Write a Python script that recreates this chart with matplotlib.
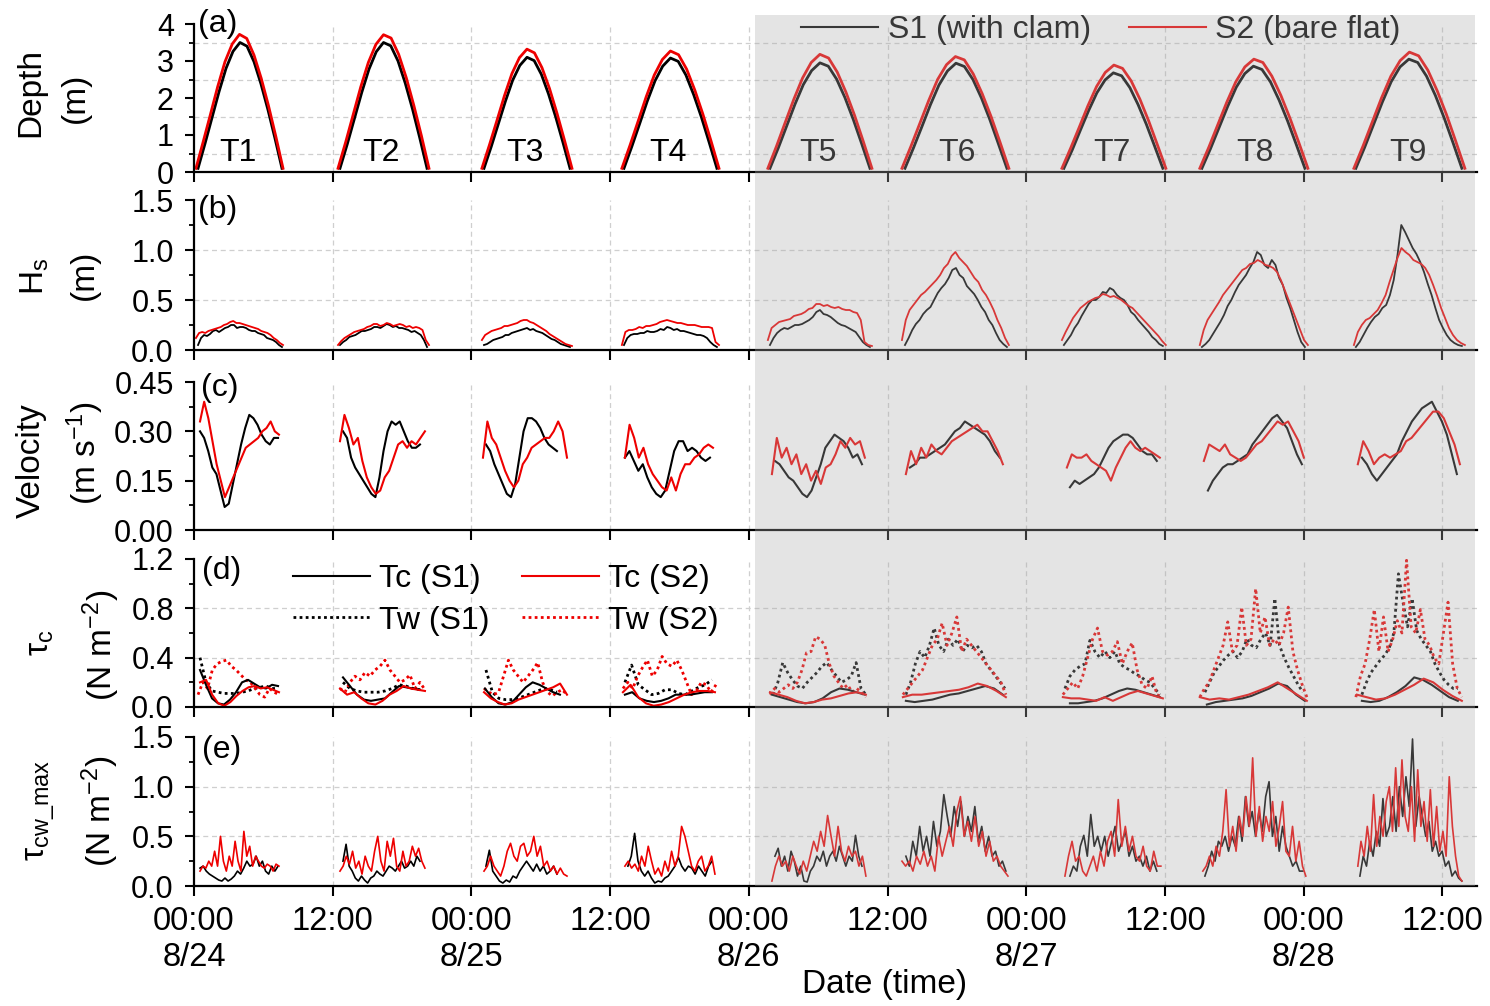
import numpy as np
import matplotlib
matplotlib.use('Agg')
import matplotlib.pyplot as plt
import matplotlib.transforms as mtransforms
from matplotlib.patches import Rectangle
from matplotlib.lines import Line2D

plt.rcParams['font.family'] = ['Liberation Sans', 'DejaVu Sans']
plt.rcParams['mathtext.fontset'] = 'custom'
plt.rcParams['mathtext.rm'] = 'Liberation Sans'
plt.rcParams['mathtext.it'] = 'Liberation Sans:italic'
plt.rcParams['mathtext.bf'] = 'Liberation Sans:bold'

# ---------------- data (time in hours after 8/24 00:00) ----------------
XTICKS = [0, 12, 24, 36, 48, 60, 72, 84, 96, 108]
XTICK_LABELS = ['00:00\n8/24', '12:00', '00:00\n8/25', '12:00', '00:00\n8/26',
                '12:00', '00:00\n8/27', '12:00', '00:00\n8/28', '12:00']
TIDE_LABELS = ['T1', 'T2', 'T3', 'T4', 'T5', 'T6', 'T7', 'T8', 'T9']
TIDE_LABEL_TIME = [3.81, 16.18, 28.63, 41.0, 53.98, 66.0, 79.41, 91.78, 105.0]
STORM_START = 48.53

# sampling windows (start, end) of each tide
WIN_A_S1 = [(0.35, 7.61), (12.63, 20.16), (25.09, 32.53), (37.2, 45.24), (49.83, 58.48),
            (61.51, 70.33), (75.26, 83.82), (87.2, 96.11), (100.52, 109.69)]
WIN_A_S2 = [(0.17, 7.7), (12.46, 20.33), (24.91, 32.7), (37.02, 45.42), (49.65, 58.65),
            (61.25, 70.5), (75.09, 84.08), (87.02, 96.37), (100.35, 109.95)]
WIN_C_S1 = [(0.52, 7.27), (12.89, 19.55), (25.26, 31.4), (37.28, 44.64), (50.26, 57.79),
            (61.94, 69.72), (75.78, 83.3), (87.72, 95.85), (101.04, 109.26)]
WIN_C_S2 = [(0.52, 7.35), (12.63, 19.98), (25.0, 32.27), (37.28, 44.9), (50.0, 58.04),
            (61.59, 69.98), (75.52, 83.56), (87.37, 96.02), (100.69, 109.52)]
WIN_TC_S1 = [(0.52, 7.27), (12.89, 19.55), (25.17, 31.66), (37.28, 44.81), (50.0, 58.04),
             (61.59, 69.98), (75.78, 83.56), (87.63, 96.11), (101.04, 109.34)]
WIN_TC_S2 = [(0.52, 7.35), (12.63, 19.98), (25.09, 32.27), (37.11, 45.07), (49.83, 58.13),
             (61.33, 70.24), (75.17, 83.82), (87.02, 96.28), (100.61, 109.69)]
WIN_TW_S1 = [(0.52, 7.27), (12.89, 19.55), (25.26, 31.4), (37.28, 44.81), (50.09, 58.13),
             (61.59, 70.16), (75.35, 83.56), (87.46, 95.93), (101.04, 109.34)]
WIN_TW_S2 = [(0.35, 7.35), (12.63, 19.98), (25.09, 32.27), (37.11, 45.16), (49.83, 58.13),
             (61.33, 70.24), (75.17, 83.74), (87.02, 96.28), (100.52, 109.69)]
WIN_E_S1 = [(0.52, 7.27), (12.89, 19.55), (25.26, 31.4), (37.54, 44.81), (50.26, 57.79),
            (61.59, 70.24), (75.78, 83.3), (87.46, 95.93), (100.87, 109.69)]
WIN_E_S2 = [(0.52, 7.35), (12.63, 19.98), (25.09, 32.27), (37.28, 45.07), (50.0, 58.13),
            (61.25, 70.42), (75.35, 83.65), (87.28, 96.19), (100.69, 109.69)]

DEPTH_S1 = [
    [0.1, 0.77, 1.47, 2.17, 2.8, 3.26, 3.5, 3.4, 2.98, 2.38, 1.68, 0.91, 0.1],
    [0.1, 0.75, 1.45, 2.15, 2.78, 3.25, 3.5, 3.41, 3.0, 2.4, 1.7, 0.92, 0.1],
    [0.1, 0.68, 1.3, 1.92, 2.48, 2.88, 3.1, 3.01, 2.64, 2.11, 1.49, 0.81, 0.1],
    [0.1, 0.68, 1.29, 1.91, 2.46, 2.86, 3.08, 2.99, 2.62, 2.09, 1.48, 0.8, 0.1],
    [0.1, 0.65, 1.24, 1.83, 2.36, 2.74, 2.95, 2.86, 2.51, 2.01, 1.42, 0.77, 0.1],
    [0.1, 0.65, 1.23, 1.82, 2.35, 2.73, 2.94, 2.85, 2.5, 2.0, 1.41, 0.76, 0.1],
    [0.1, 0.59, 1.13, 1.66, 2.14, 2.49, 2.68, 2.6, 2.28, 1.82, 1.29, 0.7, 0.1],
    [0.1, 0.63, 1.2, 1.77, 2.29, 2.66, 2.86, 2.77, 2.43, 1.94, 1.37, 0.74, 0.1],
    [0.1, 0.67, 1.28, 1.89, 2.44, 2.84, 3.05, 2.96, 2.59, 2.07, 1.46, 0.79, 0.1]]
DEPTH_S2 = [
    [0.1, 0.82, 1.56, 2.31, 2.98, 3.46, 3.72, 3.61, 3.16, 2.53, 1.79, 0.97, 0.1],
    [0.1, 0.8, 1.55, 2.3, 2.96, 3.45, 3.71, 3.62, 3.18, 2.55, 1.8, 0.98, 0.1],
    [0.1, 0.73, 1.39, 2.06, 2.66, 3.09, 3.32, 3.22, 2.82, 2.26, 1.59, 0.86, 0.1],
    [0.1, 0.72, 1.37, 2.03, 2.62, 3.04, 3.27, 3.17, 2.78, 2.22, 1.57, 0.85, 0.1],
    [0.1, 0.7, 1.34, 1.97, 2.54, 2.96, 3.18, 3.08, 2.7, 2.16, 1.53, 0.83, 0.1],
    [0.1, 0.69, 1.31, 1.93, 2.5, 2.9, 3.12, 3.03, 2.65, 2.12, 1.5, 0.81, 0.1],
    [0.1, 0.64, 1.21, 1.79, 2.31, 2.69, 2.89, 2.8, 2.46, 1.97, 1.39, 0.75, 0.1],
    [0.1, 0.67, 1.28, 1.89, 2.44, 2.84, 3.05, 2.96, 2.59, 2.07, 1.46, 0.79, 0.1],
    [0.1, 0.71, 1.36, 2.01, 2.59, 3.01, 3.24, 3.14, 2.75, 2.2, 1.56, 0.84, 0.1]]

HS_S1 = [
    [0.05, 0.12, 0.15, 0.14, 0.16, 0.19, 0.2, 0.18, 0.2, 0.22, 0.23, 0.25, 0.25, 0.22, 0.23, 0.23, 0.22, 0.2, 0.19, 0.19, 0.17, 0.16, 0.15, 0.12, 0.11, 0.1, 0.08, 0.05, 0.03],
    [0.05, 0.08, 0.1, 0.13, 0.14, 0.15, 0.17, 0.19, 0.19, 0.2, 0.21, 0.23, 0.23, 0.22, 0.24, 0.26, 0.25, 0.23, 0.24, 0.22, 0.22, 0.21, 0.2, 0.18, 0.19, 0.17, 0.15, 0.1, 0.03],
    [0.05, 0.06, 0.08, 0.1, 0.11, 0.12, 0.13, 0.15, 0.15, 0.17, 0.18, 0.19, 0.2, 0.21, 0.22, 0.2, 0.21, 0.19, 0.18, 0.17, 0.15, 0.13, 0.11, 0.1, 0.08, 0.06, 0.05, 0.04, 0.03],
    [0.05, 0.12, 0.15, 0.16, 0.16, 0.17, 0.17, 0.19, 0.18, 0.18, 0.19, 0.21, 0.2, 0.23, 0.22, 0.2, 0.21, 0.19, 0.19, 0.18, 0.17, 0.16, 0.15, 0.15, 0.14, 0.12, 0.08, 0.05, 0.03],
    [0.05, 0.12, 0.17, 0.2, 0.22, 0.21, 0.23, 0.25, 0.25, 0.26, 0.28, 0.3, 0.33, 0.38, 0.4, 0.36, 0.35, 0.33, 0.3, 0.27, 0.25, 0.24, 0.22, 0.2, 0.18, 0.13, 0.08, 0.05, 0.03],
    [0.05, 0.12, 0.2, 0.26, 0.3, 0.36, 0.4, 0.43, 0.5, 0.57, 0.62, 0.66, 0.72, 0.8, 0.82, 0.75, 0.72, 0.64, 0.6, 0.56, 0.5, 0.43, 0.38, 0.3, 0.25, 0.17, 0.1, 0.06, 0.03],
    [0.05, 0.1, 0.15, 0.22, 0.27, 0.34, 0.4, 0.46, 0.5, 0.5, 0.53, 0.58, 0.57, 0.62, 0.6, 0.55, 0.52, 0.5, 0.45, 0.38, 0.35, 0.3, 0.26, 0.22, 0.18, 0.13, 0.1, 0.06, 0.04],
    [0.03, 0.06, 0.1, 0.16, 0.22, 0.28, 0.35, 0.44, 0.5, 0.58, 0.65, 0.7, 0.75, 0.82, 0.88, 0.98, 0.95, 0.85, 0.82, 0.9, 0.85, 0.72, 0.65, 0.52, 0.42, 0.3, 0.18, 0.08, 0.03],
    [0.03, 0.08, 0.15, 0.22, 0.28, 0.33, 0.36, 0.42, 0.45, 0.55, 0.7, 0.95, 1.25, 1.18, 1.1, 1.02, 0.96, 0.88, 0.78, 0.66, 0.55, 0.42, 0.3, 0.22, 0.15, 0.1, 0.07, 0.05, 0.04]]
HS_S2 = [
    [0.12, 0.17, 0.18, 0.17, 0.19, 0.2, 0.21, 0.22, 0.23, 0.25, 0.26, 0.28, 0.29, 0.27, 0.27, 0.26, 0.25, 0.24, 0.23, 0.22, 0.21, 0.19, 0.18, 0.17, 0.15, 0.12, 0.1, 0.07, 0.05],
    [0.05, 0.09, 0.12, 0.14, 0.16, 0.18, 0.19, 0.2, 0.21, 0.23, 0.24, 0.26, 0.26, 0.24, 0.25, 0.27, 0.26, 0.24, 0.25, 0.26, 0.25, 0.23, 0.24, 0.22, 0.23, 0.22, 0.2, 0.1, 0.05],
    [0.1, 0.15, 0.17, 0.19, 0.2, 0.21, 0.22, 0.24, 0.24, 0.25, 0.26, 0.27, 0.29, 0.3, 0.3, 0.28, 0.27, 0.25, 0.23, 0.21, 0.19, 0.16, 0.14, 0.12, 0.1, 0.08, 0.06, 0.05, 0.04],
    [0.05, 0.18, 0.2, 0.2, 0.21, 0.23, 0.22, 0.24, 0.24, 0.25, 0.26, 0.28, 0.29, 0.3, 0.29, 0.28, 0.27, 0.27, 0.26, 0.25, 0.25, 0.25, 0.24, 0.23, 0.23, 0.23, 0.22, 0.08, 0.05],
    [0.1, 0.22, 0.25, 0.28, 0.29, 0.3, 0.31, 0.34, 0.35, 0.36, 0.38, 0.41, 0.42, 0.46, 0.46, 0.44, 0.45, 0.43, 0.42, 0.43, 0.41, 0.4, 0.4, 0.38, 0.37, 0.3, 0.08, 0.05, 0.04],
    [0.1, 0.3, 0.4, 0.45, 0.5, 0.55, 0.58, 0.62, 0.66, 0.7, 0.75, 0.82, 0.86, 0.94, 0.98, 0.92, 0.88, 0.84, 0.78, 0.72, 0.68, 0.6, 0.55, 0.48, 0.4, 0.3, 0.22, 0.12, 0.05],
    [0.1, 0.18, 0.25, 0.32, 0.37, 0.42, 0.45, 0.48, 0.5, 0.52, 0.53, 0.56, 0.55, 0.53, 0.54, 0.52, 0.5, 0.47, 0.44, 0.42, 0.38, 0.34, 0.3, 0.26, 0.22, 0.18, 0.14, 0.09, 0.05],
    [0.05, 0.2, 0.3, 0.36, 0.42, 0.48, 0.55, 0.6, 0.65, 0.7, 0.75, 0.8, 0.82, 0.86, 0.87, 0.9, 0.88, 0.85, 0.84, 0.82, 0.78, 0.7, 0.6, 0.5, 0.4, 0.3, 0.2, 0.1, 0.05],
    [0.05, 0.18, 0.25, 0.3, 0.32, 0.36, 0.4, 0.47, 0.55, 0.68, 0.8, 0.92, 1.02, 0.98, 0.95, 0.9, 0.88, 0.86, 0.82, 0.75, 0.65, 0.54, 0.42, 0.32, 0.22, 0.15, 0.1, 0.07, 0.05]]

VEL_S1 = [
    [0.30, 0.28, 0.24, 0.19, 0.17, 0.12, 0.07, 0.08, 0.14, 0.2, 0.26, 0.31, 0.35, 0.34, 0.32, 0.29, 0.27, 0.26, 0.28, 0.28],
    [0.30, 0.28, 0.22, 0.19, 0.17, 0.15, 0.13, 0.11, 0.1, 0.16, 0.24, 0.3, 0.33, 0.32, 0.33, 0.3, 0.27, 0.25, 0.25, 0.26],
    [0.26, 0.24, 0.2, 0.17, 0.14, 0.11, 0.1, 0.14, 0.22, 0.3, 0.34, 0.34, 0.33, 0.31, 0.28, 0.26, 0.25, 0.24],
    [0.22, 0.24, 0.21, 0.18, 0.2, 0.16, 0.13, 0.11, 0.1, 0.12, 0.18, 0.24, 0.27, 0.27, 0.24, 0.25, 0.24, 0.22, 0.21, 0.22],
    [0.21, 0.2, 0.18, 0.16, 0.15, 0.13, 0.11, 0.1, 0.12, 0.16, 0.2, 0.25, 0.27, 0.29, 0.28, 0.27, 0.25, 0.22, 0.23, 0.2],
    [0.19, 0.2, 0.22, 0.22, 0.23, 0.24, 0.25, 0.26, 0.28, 0.3, 0.31, 0.33, 0.32, 0.31, 0.3, 0.29, 0.27, 0.24, 0.22],
    [0.13, 0.15, 0.14, 0.15, 0.16, 0.17, 0.19, 0.22, 0.25, 0.27, 0.28, 0.29, 0.29, 0.28, 0.26, 0.24, 0.23, 0.23, 0.21],
    [0.12, 0.15, 0.17, 0.19, 0.2, 0.2, 0.21, 0.22, 0.23, 0.26, 0.28, 0.3, 0.32, 0.34, 0.35, 0.33, 0.31, 0.27, 0.23, 0.2],
    [0.22, 0.2, 0.17, 0.15, 0.17, 0.19, 0.21, 0.23, 0.27, 0.3, 0.33, 0.35, 0.37, 0.38, 0.39, 0.36, 0.33, 0.29, 0.23, 0.17]]
VEL_S2 = [
    [0.33, 0.39, 0.34, 0.27, 0.2, 0.15, 0.1, 0.13, 0.16, 0.19, 0.22, 0.25, 0.26, 0.27, 0.28, 0.3, 0.31, 0.33, 0.3, 0.29],
    [0.27, 0.35, 0.31, 0.26, 0.28, 0.21, 0.16, 0.13, 0.11, 0.12, 0.16, 0.18, 0.22, 0.26, 0.27, 0.25, 0.27, 0.26, 0.28, 0.3],
    [0.22, 0.33, 0.28, 0.26, 0.22, 0.18, 0.15, 0.13, 0.15, 0.2, 0.22, 0.25, 0.26, 0.27, 0.28, 0.28, 0.3, 0.33, 0.3, 0.22],
    [0.22, 0.32, 0.28, 0.22, 0.25, 0.2, 0.17, 0.15, 0.13, 0.12, 0.16, 0.12, 0.17, 0.2, 0.2, 0.22, 0.23, 0.25, 0.26, 0.25],
    [0.17, 0.28, 0.22, 0.25, 0.2, 0.23, 0.17, 0.2, 0.15, 0.18, 0.14, 0.19, 0.2, 0.23, 0.27, 0.25, 0.28, 0.26, 0.27, 0.22],
    [0.17, 0.24, 0.2, 0.25, 0.22, 0.26, 0.24, 0.23, 0.25, 0.27, 0.28, 0.29, 0.3, 0.31, 0.32, 0.3, 0.3, 0.27, 0.24, 0.2],
    [0.19, 0.23, 0.22, 0.22, 0.23, 0.21, 0.2, 0.19, 0.18, 0.15, 0.19, 0.22, 0.25, 0.27, 0.25, 0.24, 0.25, 0.24, 0.23, 0.22],
    [0.21, 0.26, 0.25, 0.24, 0.26, 0.23, 0.22, 0.21, 0.22, 0.24, 0.26, 0.27, 0.29, 0.31, 0.33, 0.32, 0.33, 0.3, 0.27, 0.22],
    [0.2, 0.27, 0.24, 0.2, 0.22, 0.23, 0.22, 0.23, 0.24, 0.27, 0.28, 0.3, 0.32, 0.34, 0.36, 0.36, 0.34, 0.3, 0.26, 0.2]]

TC_S1 = [
    [0.3, 0.18, 0.07, 0.03, 0.02, 0.06, 0.12, 0.2, 0.22, 0.19, 0.16, 0.15, 0.18, 0.17],
    [0.24, 0.17, 0.1, 0.06, 0.05, 0.06, 0.07, 0.12, 0.17, 0.16, 0.15, 0.14],
    [0.15, 0.08, 0.03, 0.02, 0.04, 0.1, 0.16, 0.2, 0.18, 0.15, 0.12, 0.1],
    [0.1, 0.12, 0.07, 0.05, 0.04, 0.05, 0.07, 0.1, 0.1, 0.1, 0.11, 0.12, 0.12],
    [0.1, 0.08, 0.06, 0.04, 0.03, 0.04, 0.07, 0.12, 0.15, 0.14, 0.12, 0.1],
    [0.05, 0.04, 0.05, 0.06, 0.08, 0.1, 0.11, 0.13, 0.15, 0.17, 0.15, 0.1],
    [0.03, 0.03, 0.04, 0.05, 0.07, 0.1, 0.13, 0.15, 0.14, 0.12, 0.1, 0.08],
    [0.02, 0.04, 0.05, 0.06, 0.07, 0.09, 0.12, 0.15, 0.19, 0.17, 0.1, 0.05],
    [0.05, 0.04, 0.05, 0.08, 0.12, 0.17, 0.24, 0.22, 0.18, 0.13, 0.08, 0.05]]
TC_S2 = [
    [0.2, 0.22, 0.1, 0.03, 0.01, 0.04, 0.09, 0.13, 0.16, 0.17, 0.15, 0.16, 0.14, 0.12],
    [0.15, 0.1, 0.12, 0.07, 0.03, 0.02, 0.05, 0.1, 0.13, 0.17, 0.15, 0.14, 0.13],
    [0.12, 0.07, 0.04, 0.02, 0.03, 0.06, 0.08, 0.1, 0.12, 0.14, 0.16, 0.19, 0.1],
    [0.12, 0.18, 0.08, 0.03, 0.01, 0.02, 0.04, 0.07, 0.1, 0.12, 0.13, 0.13, 0.12],
    [0.12, 0.1, 0.08, 0.05, 0.03, 0.04, 0.06, 0.07, 0.09, 0.11, 0.12, 0.1],
    [0.08, 0.1, 0.1, 0.11, 0.12, 0.13, 0.14, 0.16, 0.19, 0.17, 0.13, 0.08],
    [0.08, 0.07, 0.07, 0.06, 0.05, 0.08, 0.05, 0.08, 0.11, 0.13, 0.11, 0.09, 0.07],
    [0.08, 0.06, 0.07, 0.06, 0.08, 0.1, 0.13, 0.16, 0.2, 0.15, 0.1, 0.05],
    [0.1, 0.08, 0.06, 0.07, 0.1, 0.14, 0.18, 0.23, 0.2, 0.14, 0.09, 0.05]]
TW_S1 = [
    [0.4, 0.2, 0.13, 0.12, 0.11, 0.11, 0.11, 0.12, 0.13, 0.15, 0.16, 0.17, 0.15, 0.15],
    [0.2, 0.15, 0.13, 0.12, 0.12, 0.12, 0.13, 0.15, 0.18, 0.17, 0.15, 0.14],
    [0.3, 0.12, 0.07, 0.06, 0.06, 0.07, 0.09, 0.11, 0.13, 0.15, 0.14, 0.12],
    [0.2, 0.34, 0.18, 0.14, 0.1, 0.11, 0.14, 0.14, 0.11, 0.1, 0.13, 0.16, 0.18, 0.22],
    [0.1, 0.2, 0.36, 0.28, 0.22, 0.17, 0.15, 0.2, 0.24, 0.28, 0.33, 0.36, 0.3, 0.25, 0.2, 0.22, 0.25, 0.36, 0.15, 0.1],
    [0.1, 0.2, 0.35, 0.45, 0.4, 0.5, 0.64, 0.5, 0.45, 0.55, 0.5, 0.55, 0.45, 0.5, 0.48, 0.5, 0.45, 0.35, 0.3, 0.25, 0.2, 0.15],
    [0.15, 0.25, 0.3, 0.33, 0.35, 0.54, 0.45, 0.4, 0.45, 0.4, 0.45, 0.35, 0.32, 0.3, 0.27, 0.25, 0.22, 0.2, 0.15, 0.1],
    [0.12, 0.2, 0.28, 0.33, 0.38, 0.42, 0.45, 0.4, 0.45, 0.55, 0.5, 0.48, 0.55, 0.6, 0.5, 0.88, 0.5, 0.4, 0.32, 0.25, 0.18, 0.12],
    [0.1, 0.2, 0.28, 0.33, 0.38, 0.42, 0.48, 0.6, 1.08, 0.85, 0.65, 0.88, 0.62, 0.55, 0.5, 0.45, 0.35, 0.28, 0.22, 0.18, 0.15, 0.15]]
TW_S2 = [
    [0.1, 0.2, 0.15, 0.3, 0.35, 0.37, 0.38, 0.33, 0.3, 0.26, 0.22, 0.2, 0.15, 0.1, 0.08, 0.15, 0.12, 0.1],
    [0.15, 0.12, 0.2, 0.25, 0.22, 0.28, 0.25, 0.3, 0.33, 0.38, 0.3, 0.25, 0.2, 0.22, 0.26, 0.15, 0.2, 0.14],
    [0.15, 0.12, 0.1, 0.12, 0.25, 0.38, 0.3, 0.25, 0.2, 0.25, 0.3, 0.36, 0.2, 0.12, 0.09, 0.12, 0.14, 0.1],
    [0.15, 0.2, 0.15, 0.25, 0.32, 0.38, 0.25, 0.3, 0.41, 0.35, 0.33, 0.38, 0.3, 0.2, 0.1, 0.13, 0.2, 0.18, 0.12, 0.18],
    [0.1, 0.15, 0.12, 0.15, 0.18, 0.15, 0.2, 0.3, 0.44, 0.45, 0.57, 0.55, 0.5, 0.35, 0.25, 0.2, 0.15, 0.18, 0.12, 0.15, 0.12, 0.08],
    [0.1, 0.15, 0.2, 0.25, 0.3, 0.4, 0.5, 0.55, 0.68, 0.5, 0.6, 0.73, 0.45, 0.55, 0.5, 0.45, 0.4, 0.35, 0.3, 0.25, 0.2, 0.1],
    [0.1, 0.15, 0.2, 0.15, 0.25, 0.4, 0.55, 0.64, 0.45, 0.42, 0.45, 0.53, 0.35, 0.45, 0.52, 0.3, 0.18, 0.15, 0.25, 0.1, 0.08],
    [0.08, 0.15, 0.2, 0.3, 0.4, 0.5, 0.69, 0.45, 0.5, 0.81, 0.5, 0.55, 0.96, 0.6, 0.73, 0.5, 0.55, 0.5, 0.6, 0.81, 0.45, 0.3, 0.18, 0.08],
    [0.08, 0.25, 0.35, 0.55, 0.79, 0.45, 0.73, 0.45, 0.55, 0.7, 0.6, 1.19, 0.65, 0.6, 0.79, 0.55, 0.5, 0.4, 0.35, 0.6, 0.85, 0.35, 0.15, 0.08]]

TCW_S1 = [
    [0.18, 0.2, 0.15, 0.12, 0.1, 0.08, 0.06, 0.05, 0.08, 0.05, 0.07, 0.1, 0.15, 0.12, 0.18, 0.25, 0.2, 0.22, 0.3, 0.2, 0.25, 0.15, 0.12, 0.2, 0.15, 0.2],
    [0.25, 0.42, 0.2, 0.15, 0.08, 0.05, 0.1, 0.06, 0.03, 0.08, 0.1, 0.15, 0.12, 0.1, 0.15, 0.2, 0.18, 0.15, 0.2, 0.25, 0.18, 0.2, 0.25, 0.2, 0.3, 0.25],
    [0.2, 0.36, 0.15, 0.1, 0.05, 0.03, 0.06, 0.04, 0.1, 0.08, 0.15, 0.2, 0.25, 0.2, 0.15, 0.22, 0.15, 0.2, 0.12, 0.15, 0.2, 0.12],
    [0.2, 0.3, 0.53, 0.25, 0.15, 0.1, 0.15, 0.08, 0.03, 0.05, 0.04, 0.08, 0.1, 0.15, 0.2, 0.29, 0.2, 0.15, 0.2, 0.18, 0.12, 0.2, 0.15, 0.1, 0.2, 0.25],
    [0.3, 0.38, 0.2, 0.3, 0.15, 0.35, 0.25, 0.1, 0.2, 0.05, 0.04, 0.15, 0.2, 0.3, 0.25, 0.35, 0.2, 0.3, 0.35, 0.25, 0.4, 0.3, 0.2, 0.3, 0.25, 0.51, 0.3, 0.2],
    [0.3, 0.2, 0.45, 0.3, 0.6, 0.35, 0.5, 0.3, 0.65, 0.4, 0.55, 0.92, 0.7, 0.5, 0.8, 0.6, 0.85, 0.5, 0.7, 0.55, 0.8, 0.45, 0.6, 0.35, 0.5, 0.3, 0.35, 0.2, 0.25, 0.15],
    [0.1, 0.2, 0.15, 0.4, 0.51, 0.3, 0.72, 0.4, 0.5, 0.35, 0.5, 0.3, 0.45, 0.6, 0.35, 0.45, 0.55, 0.3, 0.4, 0.25, 0.3, 0.2, 0.3, 0.15, 0.25, 0.15],
    [0.1, 0.2, 0.35, 0.25, 0.45, 0.4, 0.5, 0.35, 0.5, 0.4, 0.7, 0.45, 0.9, 0.6, 0.75, 0.5, 0.75, 0.55, 0.9, 1.05, 0.5, 0.7, 0.35, 0.6, 0.4, 0.3, 0.2, 0.25, 0.15, 0.15],
    [0.1, 0.3, 0.2, 0.45, 0.3, 0.55, 0.4, 0.88, 0.5, 0.6, 0.9, 0.55, 1.0, 0.7, 1.1, 0.8, 1.48, 0.6, 0.9, 0.7, 0.5, 0.65, 0.35, 0.45, 0.3, 0.35, 0.2, 0.25, 0.1, 0.15, 0.08, 0.05]]
TCW_S2 = [
    [0.15, 0.2, 0.18, 0.25, 0.2, 0.35, 0.2, 0.5, 0.25, 0.15, 0.3, 0.2, 0.45, 0.25, 0.15, 0.55, 0.3, 0.4, 0.2, 0.3, 0.25, 0.2, 0.18, 0.22, 0.2, 0.15, 0.22, 0.2],
    [0.15, 0.2, 0.3, 0.22, 0.35, 0.18, 0.25, 0.12, 0.3, 0.2, 0.15, 0.35, 0.5, 0.25, 0.15, 0.45, 0.3, 0.48, 0.2, 0.15, 0.35, 0.2, 0.25, 0.4, 0.3, 0.38, 0.25, 0.18],
    [0.15, 0.2, 0.3, 0.2, 0.15, 0.1, 0.2, 0.35, 0.43, 0.3, 0.25, 0.4, 0.43, 0.3, 0.35, 0.5, 0.3, 0.4, 0.2, 0.25, 0.15, 0.2, 0.12, 0.18, 0.12, 0.1],
    [0.2, 0.25, 0.18, 0.22, 0.15, 0.3, 0.2, 0.4, 0.25, 0.12, 0.18, 0.1, 0.25, 0.15, 0.35, 0.2, 0.3, 0.6, 0.5, 0.35, 0.2, 0.15, 0.25, 0.3, 0.15, 0.2, 0.3, 0.12],
    [0.05, 0.2, 0.3, 0.2, 0.25, 0.15, 0.3, 0.2, 0.12, 0.25, 0.15, 0.3, 0.45, 0.35, 0.55, 0.4, 0.71, 0.5, 0.3, 0.6, 0.35, 0.25, 0.4, 0.3, 0.35, 0.2, 0.3, 0.1],
    [0.25, 0.2, 0.25, 0.15, 0.3, 0.22, 0.35, 0.2, 0.3, 0.15, 0.5, 0.3, 0.45, 0.6, 0.4, 0.75, 0.9, 0.5, 0.65, 0.45, 0.7, 0.4, 0.55, 0.3, 0.45, 0.25, 0.3, 0.2, 0.15, 0.1],
    [0.1, 0.3, 0.45, 0.25, 0.3, 0.15, 0.1, 0.2, 0.3, 0.15, 0.35, 0.2, 0.45, 0.55, 0.3, 0.87, 0.4, 0.6, 0.35, 0.5, 0.3, 0.25, 0.4, 0.2, 0.15, 0.35, 0.2, 0.2],
    [0.15, 0.2, 0.3, 0.2, 0.4, 0.3, 0.55, 0.97, 0.4, 0.6, 0.35, 0.7, 0.5, 0.9, 0.6, 1.29, 0.5, 0.8, 0.45, 0.7, 0.55, 0.85, 0.4, 0.6, 0.85, 0.35, 0.3, 0.6, 0.25, 0.45, 0.2, 0.1],
    [0.2, 0.45, 0.3, 0.6, 0.35, 0.92, 0.4, 0.7, 0.5, 0.85, 1.0, 0.55, 1.19, 0.6, 1.27, 0.7, 0.55, 1.0, 0.45, 1.17, 0.6, 0.85, 0.45, 0.97, 0.4, 0.8, 0.35, 0.55, 0.3, 1.1, 0.6, 0.3, 0.1, 0.05]]

# ---------------- figure ----------------
W, H = 1490, 1006
fig = plt.figure(figsize=(W / 100, H / 100), dpi=100)
L, R = 194, 1477
PANELS = [(24, 172), (200, 350), (382, 530), (559, 707), (737, 886)]
axes = []
for top, bot in PANELS:
    axes.append(fig.add_axes([L / W, 1 - bot / H, (R - L) / W, (bot - top) / H]))

BLACK = '#000000'
RED = '#ee0000'
GRIDC = '#cfcfcf'


def draw(ax, wins, segs, **kw):
    for (t0, t1), vals in zip(wins, segs):
        ax.plot(np.linspace(t0, t1, len(vals)), vals, **kw)


draw(axes[0], WIN_A_S1, DEPTH_S1, color=BLACK, lw=2.0)
draw(axes[0], WIN_A_S2, DEPTH_S2, color=RED, lw=2.0)
draw(axes[1], WIN_A_S1, HS_S1, color=BLACK, lw=1.3)
draw(axes[1], WIN_A_S2, HS_S2, color=RED, lw=1.3)
draw(axes[2], WIN_C_S1, VEL_S1, color=BLACK, lw=1.5)
draw(axes[2], WIN_C_S2, VEL_S2, color=RED, lw=1.5)
dot = (0, (1, 1.2))
draw(axes[3], WIN_TW_S1, TW_S1, color=BLACK, lw=2.0, ls=dot)
draw(axes[3], WIN_TW_S2, TW_S2, color=RED, lw=2.0, ls=dot)
draw(axes[3], WIN_TC_S1, TC_S1, color=BLACK, lw=1.5)
draw(axes[3], WIN_TC_S2, TC_S2, color=RED, lw=1.5)
draw(axes[4], WIN_E_S1, TCW_S1, color=BLACK, lw=1.2)
draw(axes[4], WIN_E_S2, TCW_S2, color=RED, lw=1.2)

ylims = [(0, 4), (0, 1.5), (0, 0.45), (0, 1.2), (0, 1.5)]
ymajor = [[0, 1, 2, 3, 4], [0, 0.5, 1.0, 1.5], [0, 0.15, 0.30, 0.45], [0, 0.4, 0.8, 1.2], [0, 0.5, 1.0, 1.5]]
ylabfmt = ['{:.0f}', '{:.1f}', '{:.2f}', '{:.1f}', '{:.1f}']
yminor = [0.5, 0.25, 0.075, 0.2, 0.25]
hgrid = [[0.5, 1.5, 2.5, 3.5], [0.5, 1.0], [], [0.4, 0.8], [0.5, 1.0]]

for i, ax in enumerate(axes):
    ax.set_xlim(0, 111)
    ax.set_ylim(*ylims[i])
    ax.set_facecolor('none')
    for s in ['top', 'right']:
        ax.spines[s].set_visible(False)
    for s in ['left', 'bottom']:
        ax.spines[s].set_linewidth(1.6)
    ax.set_xticks(XTICKS)
    if i == 4:
        ax.set_xticklabels(XTICK_LABELS)
    else:
        ax.set_xticklabels([])
    ax.set_yticks(ymajor[i])
    ax.set_yticklabels([ylabfmt[i].format(v) for v in ymajor[i]])
    mn = np.arange(0, ylims[i][1] + 1e-9, yminor[i])
    ax.set_yticks(mn, minor=True)
    ax.tick_params(axis='x', which='major', direction='out', length=7.5, width=1.5,
                   labelsize=23.5, pad=7)
    ax.tick_params(axis='y', which='major', direction='out', length=6.5, width=1.5,
                   labelsize=22, pad=8)
    ax.tick_params(axis='y', which='minor', direction='out', length=3.5, width=1.3)
    for x in XTICKS[1:]:
        ax.axvline(x, color=GRIDC, ls=(0, (4, 3)), lw=0.9, zorder=0)
    for y in hgrid[i]:
        ax.axhline(y, color=GRIDC, ls=(0, (4, 3)), lw=0.9, zorder=0)

# tide labels
for lab, t in zip(TIDE_LABELS, TIDE_LABEL_TIME):
    axes[0].text(t, 0.52, lab, fontsize=23, ha='center', va='center', color='black')


def px(x, y):
    return x / W, 1 - y / H


# panel letters
for lab, (x, y) in zip(['(a)', '(b)', '(c)', '(d)', '(e)'],
                       [(218, 24), (218, 210), (220, 388), (222, 571), (222, 750)]):
    fig.text(*px(x, y), lab, fontsize=23, ha='center', va='center')

# y labels
YL = [('Depth', (31, 92), '(m)', (75, 98)),
      ('H$_{\\mathregular{s}}$', (35, 276), '(m)', (84, 275)),
      ('Velocity', (31, 461), '(m s$^{\\mathregular{-1}}$)', (85, 453)),
      ('$\\mathregular{τ_c}$', (41, 643), '(N m$^{\\mathregular{-2}}$)', (101, 645)),
      ('$\\mathregular{τ_{cw\\_max}}$', (41, 811), '(N m$^{\\mathregular{-2}}$)', (100, 811))]
for l1, p1, l2, p2 in YL:
    fig.text(*px(*p1), l1, fontsize=24, rotation=90, ha='center', va='center')
    fig.text(*px(*p2), l2, fontsize=24, rotation=90, ha='center', va='center')

fig.text(*px(885, 985), 'Date (time)', fontsize=24, ha='center', va='center')

# legends
h1 = [Line2D([], [], color=BLACK, lw=1.5), Line2D([], [], color=RED, lw=1.5)]
axes[0].legend(h1, ['S1 (with clam)', 'S2 (bare flat)'], ncol=2, frameon=False,
               fontsize=23, handlelength=2.4, handletextpad=0.3, columnspacing=1.2,
               loc='center', bbox_to_anchor=px(1101, 30), bbox_transform=fig.transFigure,
               borderpad=0, borderaxespad=0)
h2 = [Line2D([], [], color=BLACK, lw=1.5), Line2D([], [], color=BLACK, lw=2.0, ls=dot),
      Line2D([], [], color=RED, lw=1.5), Line2D([], [], color=RED, lw=2.0, ls=dot)]
axes[3].legend(h2, ['Tc (S1)', 'Tw (S1)', 'Tc (S2)', 'Tw (S2)'], ncol=2, frameon=False,
               fontsize=23, handlelength=2.4, handletextpad=0.3, columnspacing=1.0,
               labelspacing=0.35, loc='center', bbox_to_anchor=px(506, 600),
               bbox_transform=fig.transFigure, borderpad=0, borderaxespad=0)

# storm-period shading overlay
trans = mtransforms.blended_transform_factory(axes[4].transData, fig.transFigure)
rect = Rectangle((STORM_START, 1 - 886 / H), 110.85 - STORM_START, (886 - 15) / H,
                 transform=trans, facecolor=(0.68, 0.68, 0.68), alpha=0.33,
                 edgecolor='none', zorder=5, clip_on=False)
fig.add_artist(rect)

fig.savefig('out.png', dpi=100)
